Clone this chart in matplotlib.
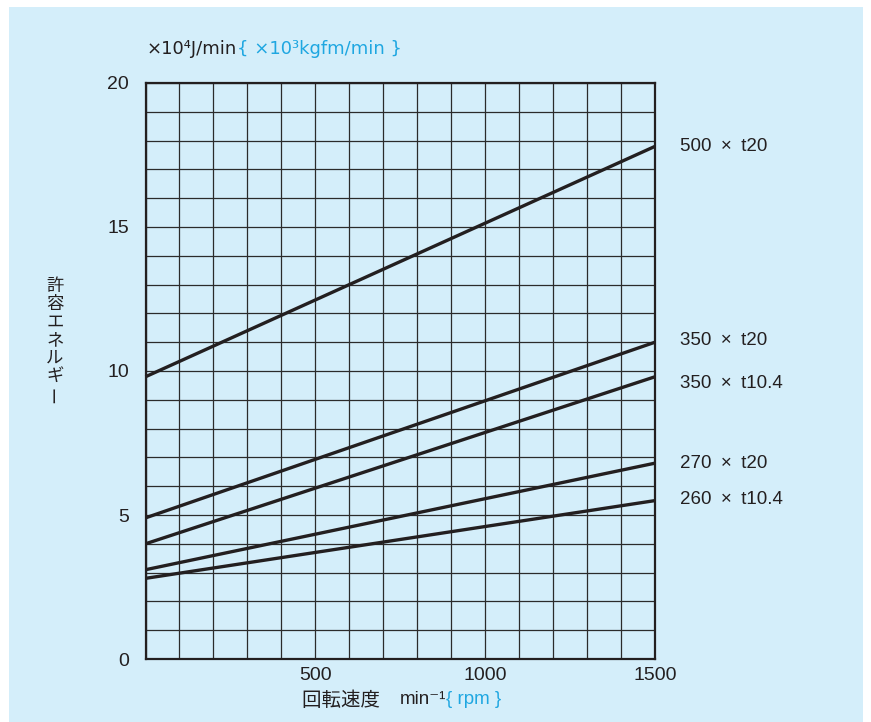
import matplotlib
matplotlib.use("Agg")
import matplotlib.pyplot as plt
from matplotlib.patches import Rectangle

plt.rcParams['font.family'] = ['Liberation Sans', 'Noto Sans CJK JP', 'DejaVu Sans']

# ---- data ----
speeds = [0, 1500]
e_500_t20 = [9.8, 17.8]
e_350_t20 = [4.9, 11.0]
e_350_t104 = [4.0, 9.8]
e_270_t20 = [3.1, 6.8]
e_260_t104 = [2.8, 5.5]
series = [e_500_t20, e_350_t20, e_350_t104, e_270_t20, e_260_t104]
series_labels = ["500\u2002×\u2002t20", "350\u2002×\u2002t20", "350\u2002×\u2002t10.4",
                 "270\u2002×\u2002t20", "260\u2002×\u2002t10.4"]
label_dy = [0, 1.5, -5, 0, 0.5]  # label vertical offsets (points)
x_ticks = [500, 1000, 1500]
y_ticks = [0, 5, 10, 15, 20]
y_title = "許容エネルギー"

BG = '#d4eefa'
INK = '#231f20'
CYAN = '#1fa7e1'

W, H = 871, 722
fig = plt.figure(figsize=(W / 100, H / 100), dpi=100)
fig.patch.set_facecolor('white')
fig.patches.append(Rectangle((9 / W, 0), (863 - 9) / W, 1 - 7 / H,
                             transform=fig.transFigure, facecolor=BG,
                             edgecolor='none', zorder=-10))

ax = fig.add_axes([145.5 / W, 1 - 659 / H, (655 - 145.5) / W, (659 - 83) / H])
ax.set_facecolor(BG)
ax.set_xlim(0, 1500)
ax.set_ylim(0, 20)
ax.set_xticks(x_ticks)
ax.set_xticks(range(0, 1501, 100), minor=True)
ax.set_yticks(y_ticks)
ax.set_yticks(range(0, 21), minor=True)
ax.grid(True, which='both', color='#2b2b2b', linewidth=0.9, zorder=1)
ax.set_axisbelow(True)
ax.tick_params(which='both', length=0)
ax.tick_params(axis='x', pad=6, labelsize=14, colors=INK)
ax.tick_params(axis='y', pad=12, labelsize=14, colors=INK)
for s in ax.spines.values():
    s.set_color(INK)
    s.set_linewidth(1.6)

for ys, lab, dy in zip(series, series_labels, label_dy):
    ax.plot(speeds, ys, color=INK, linewidth=2.4, solid_capstyle='butt',
            zorder=3, clip_on=False)
    ax.annotate(lab, xy=(speeds[-1], ys[-1]), xytext=(18, dy),
                textcoords='offset points', va='center', ha='left',
                fontsize=13.5, color=INK, annotation_clip=False)

fig.canvas.draw()
renderer = fig.canvas.get_renderer()


def chain(pieces, x0, y):
    x = x0
    for txt, col, fs, fam in pieces:
        t = fig.text(x, y, txt, color=col, fontsize=fs, va='center', ha='left',
                     family=fam)
        bb = t.get_window_extent(renderer)
        x = bb.x1 / W


SANS = ['DejaVu Sans', 'Noto Sans CJK JP']
LIB = ['Liberation Sans', 'Noto Sans CJK JP', 'DejaVu Sans']
CJK = ['Noto Sans CJK JP', 'DejaVu Sans']

# top unit label
chain([("×10⁴J/min", INK, 13, SANS),
       ("{ ×10³kgfm/min }", CYAN, 13, SANS)], 147 / W, 1 - 49 / H)

# x-axis title
chain([("回転速度\u3000", INK, 14, CJK), ("min⁻¹", INK, 13.5, LIB),
       ("{ rpm }", CYAN, 13.5, LIB)], 302 / W, 1 - 700 / H)

# vertical y-axis title (stacked characters)
for i, ch in enumerate(y_title):
    yc = 286 + i * 18
    rot = 90 if ch == 'ー' else 0
    fig.text(55 / W, 1 - yc / H, ch, fontsize=12.5, color=INK, rotation=rot,
             ha='center', va='center', family=CJK)

fig.savefig('out.png', dpi=100, facecolor=fig.get_facecolor())
